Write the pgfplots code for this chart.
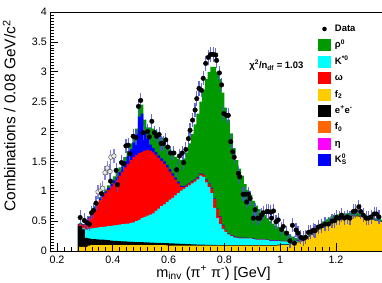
\documentclass[border=0pt]{standalone}
\usepackage{fontspec}
\setmainfont{Liberation Sans}
\setsansfont{Liberation Sans}
\usepackage{pgfplots}
\pgfplotsset{compat=1.18}
\usepackage{pgfplotstable}
\definecolor{rhocol}{RGB}{0,153,0}
\definecolor{kstcol}{RGB}{0,255,255}
\definecolor{omcol}{RGB}{255,0,0}
\definecolor{ftwocol}{RGB}{255,204,0}
\definecolor{eecol}{RGB}{0,0,0}
\definecolor{fzerocol}{RGB}{255,102,0}
\definecolor{etacol}{RGB}{255,0,255}
\definecolor{kscol}{RGB}{0,0,255}
\definecolor{errcol}{RGB}{80,80,225}

% cumulative stack tops (x = left bin edge, values in 10^3)
\pgfplotstableread{
x Y B C R K G
0.275 0.07 0.42 0.42 0.44 0.45 0.46
0.28 0.07 0.42 0.42 0.45 0.46 0.47
0.29 0.07 0.36 0.38 0.43 0.44 0.45
0.30 0.07 0.22 0.36 0.46 0.47 0.48
0.31 0.09 0.21 0.37 0.55 0.57 0.58
0.32 0.10 0.20 0.38 0.64 0.66 0.68
0.33 0.10 0.20 0.385 0.71 0.73 0.75
0.34 0.10 0.195 0.39 0.78 0.80 0.82
0.35 0.10 0.19 0.40 0.85 0.875 0.90
0.36 0.10 0.19 0.405 0.91 0.935 0.96
0.37 0.10 0.185 0.41 0.97 1.00 1.03
0.38 0.10 0.18 0.415 1.02 1.06 1.10
0.39 0.10 0.175 0.42 1.08 1.12 1.17
0.40 0.10 0.17 0.43 1.13 1.18 1.25
0.41 0.10 0.168 0.435 1.19 1.24 1.32
0.42 0.10 0.165 0.44 1.26 1.32 1.40
0.43 0.10 0.162 0.45 1.33 1.41 1.48
0.44 0.10 0.16 0.455 1.40 1.50 1.57
0.45 0.10 0.158 0.46 1.46 1.59 1.67
0.46 0.10 0.155 0.47 1.52 1.70 1.80
0.47 0.10 0.152 0.48 1.57 1.82 1.92
0.48 0.10 0.15 0.50 1.61 1.96 2.05
0.49 0.10 0.15 0.52 1.64 2.25 2.40
0.50 0.10 0.148 0.55 1.66 2.30 2.45
0.51 0.10 0.146 0.57 1.68 2.00 2.20
0.52 0.10 0.144 0.59 1.69 1.88 2.07
0.53 0.10 0.142 0.61 1.68 1.78 2.07
0.54 0.10 0.14 0.63 1.65 1.72 2.05
0.55 0.10 0.138 0.67 1.61 1.66 2.02
0.56 0.10 0.136 0.71 1.56 1.60 1.97
0.57 0.10 0.134 0.75 1.51 1.55 1.90
0.58 0.10 0.132 0.78 1.46 1.50 1.80
0.59 0.095 0.13 0.82 1.40 1.44 1.74
0.60 0.09 0.128 0.86 1.33 1.37 1.70
0.61 0.09 0.126 0.89 1.26 1.30 1.63
0.62 0.09 0.124 0.93 1.20 1.23 1.58
0.63 0.09 0.122 0.97 1.13 1.16 1.545
0.64 0.09 0.12 1.01 1.07 1.09 1.525
0.65 0.09 0.118 1.04 1.07 1.085 1.55
0.66 0.09 0.116 1.07 1.10 1.11 1.65
0.67 0.09 0.114 1.10 1.13 1.14 1.80
0.68 0.09 0.112 1.13 1.16 1.17 1.96
0.69 0.09 0.11 1.16 1.19 1.20 2.12
0.70 0.09 0.108 1.20 1.23 1.24 2.30
0.71 0.09 0.106 1.26 1.29 1.30 2.50
0.72 0.09 0.105 1.24 1.27 1.28 2.70
0.73 0.09 0.104 1.15 1.19 1.20 2.88
0.74 0.09 0.103 1.07 1.12 1.13 3.00
0.75 0.09 0.102 0.97 1.05 1.06 3.08
0.76 0.09 0.101 0.72 0.87 0.88 3.08
0.77 0.09 0.10 0.55 0.70 0.71 3.00
0.78 0.09 0.10 0.45 0.57 0.58 2.88
0.79 0.09 0.10 0.37 0.43 0.44 2.65
0.80 0.09 0.10 0.32 0.35 0.355 2.40
0.81 0.09 0.10 0.28 0.29 0.295 2.20
0.82 0.09 0.10 0.25 0.26 0.265 1.97
0.83 0.09 0.10 0.23 0.24 0.245 1.72
0.84 0.09 0.10 0.22 0.23 0.235 1.52
0.85 0.09 0.10 0.21 0.22 0.225 1.38
0.86 0.09 0.10 0.21 0.22 0.225 1.26
0.87 0.09 0.10 0.21 0.22 0.225 1.12
0.88 0.09 0.10 0.21 0.215 0.22 1.02
0.89 0.09 0.10 0.21 0.215 0.22 0.94
0.90 0.09 0.10 0.20 0.205 0.21 0.84
0.91 0.09 0.10 0.19 0.195 0.20 0.76
0.92 0.09 0.10 0.19 0.195 0.20 0.70
0.93 0.09 0.10 0.19 0.195 0.20 0.64
0.94 0.09 0.10 0.19 0.195 0.20 0.60
0.95 0.09 0.10 0.18 0.185 0.19 0.55
0.96 0.09 0.10 0.17 0.175 0.18 0.50
0.97 0.09 0.10 0.17 0.175 0.18 0.46
0.98 0.09 0.10 0.17 0.175 0.18 0.42
0.99 0.095 0.105 0.17 0.175 0.18 0.40
1.00 0.10 0.11 0.16 0.165 0.17 0.37
1.01 0.10 0.11 0.16 0.165 0.17 0.34
1.02 0.10 0.11 0.155 0.16 0.165 0.30
1.03 0.11 0.12 0.155 0.16 0.165 0.27
1.04 0.12 0.13 0.155 0.16 0.165 0.24
1.05 0.13 0.14 0.16 0.165 0.17 0.22
1.06 0.145 0.155 0.17 0.175 0.18 0.20
1.07 0.16 0.168 0.175 0.18 0.185 0.20
1.08 0.18 0.188 0.19 0.193 0.196 0.21
1.09 0.21 0.217 0.218 0.22 0.222 0.24
1.10 0.24 0.247 0.248 0.25 0.252 0.28
1.11 0.27 0.277 0.278 0.28 0.282 0.32
1.12 0.30 0.307 0.308 0.31 0.312 0.365
1.13 0.33 0.337 0.338 0.34 0.342 0.41
1.14 0.36 0.367 0.368 0.37 0.372 0.455
1.15 0.39 0.397 0.398 0.40 0.402 0.495
1.16 0.42 0.427 0.428 0.43 0.432 0.53
1.17 0.44 0.447 0.448 0.45 0.452 0.56
1.18 0.47 0.477 0.478 0.48 0.482 0.58
1.19 0.50 0.507 0.508 0.51 0.512 0.60
1.20 0.52 0.527 0.528 0.53 0.532 0.615
1.21 0.54 0.547 0.548 0.55 0.552 0.62
1.22 0.56 0.567 0.568 0.57 0.572 0.625
1.23 0.57 0.577 0.578 0.58 0.582 0.63
1.24 0.575 0.582 0.583 0.585 0.587 0.635
1.25 0.58 0.587 0.588 0.59 0.592 0.64
1.26 0.58 0.587 0.588 0.59 0.592 0.64
1.27 0.58 0.587 0.588 0.59 0.592 0.635
1.28 0.575 0.582 0.583 0.585 0.587 0.625
1.29 0.565 0.572 0.573 0.575 0.577 0.615
1.30 0.55 0.557 0.558 0.56 0.562 0.605
1.31 0.54 0.547 0.548 0.55 0.552 0.59
1.32 0.525 0.532 0.533 0.535 0.537 0.575
1.33 0.515 0.522 0.523 0.525 0.527 0.56
1.34 0.505 0.512 0.513 0.515 0.517 0.545
1.35 0.495 0.502 0.503 0.505 0.507 0.535
1.36 0.485 0.492 0.493 0.495 0.497 0.525
1.37 0.485 0.492 0.493 0.495 0.497 0.525
}\hist

\pgfplotstableread{
x y
0.283 0.56
0.298 0.51
0.309 0.47
0.316 0.45
0.324 0.64
0.331 0.68
0.340 0.80
0.360 0.96
0.392 1.17
0.412 1.35
0.417 1.11
0.431 1.48
0.439 1.46
0.447 1.76
0.455 1.77
0.461 1.63
0.473 1.92
0.483 1.90
0.492 2.42
0.500 2.52
0.509 1.98
0.525 2.00
0.531 1.91
0.540 2.17
0.549 1.98
0.557 1.92
0.566 1.95
0.573 1.80
0.581 1.80
0.590 1.86
0.597 1.74
0.607 1.64
0.619 1.64
0.629 1.36
0.639 1.59
0.649 1.64
0.654 1.48
0.662 1.70
0.671 1.88
0.677 2.02
0.686 2.19
0.695 2.36
0.701 2.55
0.709 2.72
0.718 2.69
0.724 2.89
0.733 3.14
0.742 3.24
0.751 3.29
0.760 3.29
0.769 3.28
0.772 3.19
0.782 2.98
0.790 2.78
0.798 2.30
0.808 2.27
0.814 2.27
0.823 1.83
0.830 1.66
0.835 1.57
0.850 1.30
0.855 1.24
0.867 0.95
0.876 0.95
0.880 0.82
0.886 0.95
0.892 0.88
0.904 0.55
0.910 0.69
0.920 0.55
0.927 0.55
0.933 0.60
0.939 0.64
0.952 0.66
0.957 0.66
0.966 0.65
0.969 0.55
0.976 0.67
0.985 0.49
0.993 0.52
1.005 0.36
1.011 0.41
1.023 0.30
1.035 0.17
1.044 0.43
1.051 0.13
1.057 0.35
1.064 0.30
1.074 0.23
1.083 0.21
1.091 0.23
1.101 0.31
1.109 0.32
1.119 0.35
1.125 0.34
1.136 0.40
1.148 0.42
1.161 0.45
1.173 0.45
1.186 0.50
1.196 0.51
1.202 0.56
1.212 0.55
1.220 0.60
1.230 0.55
1.241 0.57
1.250 0.55
1.262 0.66
1.270 0.67
1.282 0.74
1.289 0.66
1.298 0.60
1.308 0.55
1.316 0.55
1.326 0.57
1.337 0.62
1.345 0.62
1.354 0.57
}\data

\pgfplotstableread{
x y
0.347 0.99
0.357 1.01
0.364 1.05
0.372 1.31
0.380 1.39
0.390 1.33
0.393 1.57
0.404 1.59
}\hollow

\begin{document}
\begin{tikzpicture}
\begin{axis}[
  scale only axis, width=333.4bp, height=239bp,
  xmin=0.17491, xmax=1.37, ymin=0, ymax=4,
  xtick={0.2,0.4,0.6,0.8,1,1.2},
  ytick={0,0.5,1,1.5,2,2.5,3,3.5,4},
  minor x tick num=7, minor y tick num=9,
  tick align=inside, tick pos=left,
  major tick length=8bp, minor tick length=4bp,
  every tick/.style={black, line width=0.7bp},
  axis line style={line width=0.8bp},
  axis on top,
  /pgf/number format/assume math mode=true,
  ticklabel style={font=\fontsize{10.8}{12}\selectfont},
  xticklabel style={anchor=north, inner sep=0pt, yshift=-5bp},
  yticklabel style={anchor=east, inner sep=0pt, xshift=-3bp},
  xlabel={m\textsubscript{inv} (π\textsuperscript{+} π\textsuperscript{-}) [GeV]},
  ylabel={Combinations / 0.08 GeV/c\textsuperscript{2}},
  every axis x label/.style={at={([yshift=-26bp]axis description cs:0.4904,0)}, anchor=base, inner sep=0pt, font=\fontsize{14.5}{16}\selectfont},
  every axis y label/.style={at={([xshift=-34.5bp]axis description cs:0,0.9665)}, rotate=90, anchor=base east, inner sep=0pt, font=\fontsize{15.5}{17}\selectfont},
  legend image code/.code={\fill[#1] (0bp,-6bp) rectangle (13bp,6bp);},
  legend style={at={(axis description cs:0.8038,0.954)}, anchor=north west, draw=none, fill=none, inner sep=0pt, outer sep=0pt, row sep=4.4bp, column sep=4bp, font=\fontsize{9.5}{11}\selectfont\bfseries, cells={anchor=west}, nodes={inner sep=0pt, text height=7bp, text depth=2bp}},
]
\coordinate (bl) at (axis description cs:0,0);
\addplot[fill=rhocol, draw=none, const plot mark left, forget plot] table[x=x,y=G]{\hist} \closedcycle;
\addplot[fill=kscol, draw=none, const plot mark left, forget plot] table[x=x,y=K]{\hist} \closedcycle;
\addplot[fill=omcol, draw=none, const plot mark left, forget plot] table[x=x,y=R]{\hist} \closedcycle;
\addplot[fill=kstcol, draw=none, const plot mark left, forget plot] table[x=x,y=C]{\hist} \closedcycle;
\addplot[fill=eecol, draw=none, const plot mark left, forget plot] table[x=x,y=B]{\hist} \closedcycle;
\addplot[fill=ftwocol, draw=none, const plot mark left, forget plot] table[x=x,y=Y]{\hist} \closedcycle;
\addplot[only marks, mark=*, mark size=2.3bp, mark options={fill=white!85!gray, draw=gray!70!black, line width=0.5bp}, forget plot,
  error bars/.cd, y dir=both, y fixed=0.12, error mark=none, error bar style={line width=1.2bp, color=errcol, opacity=0.7}] table[x=x,y=y]{\hollow};
\addplot[only marks, mark=*, mark size=2.3bp, mark options={fill=black, draw=black}, forget plot,
  error bars/.cd, y dir=both, y fixed=0.12, error mark=none, error bar style={line width=1.2bp, color=errcol, opacity=0.85}] table[x=x,y=y]{\data};
\addlegendimage{legend image code/.code={\path[draw=none, fill=none] (0bp,-6bp) rectangle (13bp,6bp); \path[draw=none, fill=black] (6.5bp,0bp) circle (2.3bp);}}
\addlegendentry{Data}
\addlegendimage{fill=rhocol, draw=none}
\addlegendentry{ρ\textsuperscript{0}}
\addlegendimage{fill=kstcol, draw=none}
\addlegendentry{K\textsuperscript{*0}}
\addlegendimage{fill=omcol, draw=none}
\addlegendentry{ω}
\addlegendimage{fill=ftwocol, draw=none}
\addlegendentry{f\textsubscript{2}}
\addlegendimage{fill=eecol, draw=none}
\addlegendentry{e\textsuperscript{+}e\textsuperscript{-}}
\addlegendimage{fill=fzerocol, draw=none}
\addlegendentry{f\textsubscript{0}}
\addlegendimage{fill=etacol, draw=none}
\addlegendentry{η}
\addlegendimage{fill=kscol, draw=none}
\addlegendentry{K\rlap{\textsuperscript{0}}\textsubscript{S}}
\node[font=\fontsize{9.5}{11}\selectfont\bfseries, inner sep=0pt] at (axis description cs:0.679,0.778) {χ\textsuperscript{2}/n\textsubscript{df} = 1.03};
\node[anchor=south west, inner sep=0pt, font=\fontsize{8}{9}\selectfont] at ([yshift=2bp]axis description cs:0,1) {×10\textsuperscript{3}};
\end{axis}
\pgfresetboundingbox
\path[use as bounding box] ([shift={(-50bp,-32bp)}]bl) rectangle ([shift={(332bp,251bp)}]bl);
\end{tikzpicture}
\end{document}
